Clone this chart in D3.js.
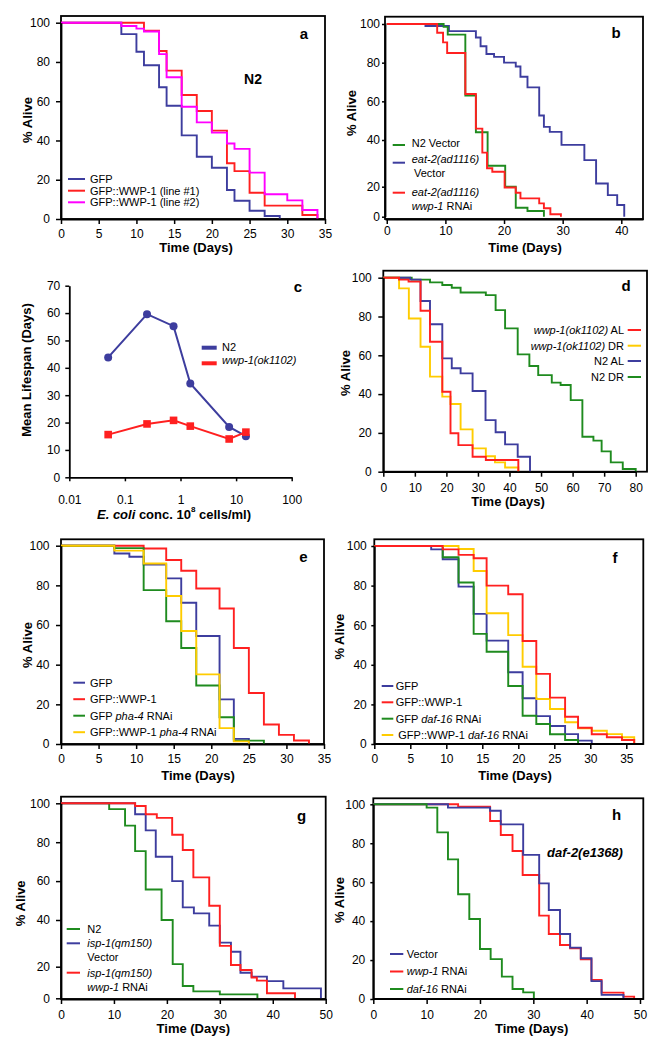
<!DOCTYPE html>
<html><head><meta charset="utf-8">
<script src="https://cdn.jsdelivr.net/npm/d3@7"></script>
<style>
body{margin:0;background:#fff}
text{font-family:"Liberation Sans",Arial,Helvetica,sans-serif;}
</style></head><body><div id="chart"></div>
<script>
// ---------------- DATA ----------------
// survival steps: [day, % alive]
const a_GFP   = [[0,100],[8,94.2],[10,85.2],[11,78.3],[13,67.1],[14,57.7],[16,42.6],[18,31.7],[20,26.1],[22,14.8],[23,9.3],[25,4.2],[27,1.5],[29,0]];
const a_WWP1  = [[0,100],[11,95.9],[13,85.6],[14,75.6],[16,63.2],[18,55],[20,45],[22,28.4],[23,24.4],[25,13.4],[27,6.8],[32,2],[34,0]];
const a_WWP2  = [[0,100],[8,98.3],[10,97],[11,95.5],[13,84],[14,72.2],[16,57.2],[18,49.2],[20,44],[22,38.5],[23,35.7],[25,23.6],[27,12.6],[30,9.5],[32,4.6],[34,0]];

const b_N2vec   = [[0,100],[9.7,98.5],[10.4,94.5],[13.4,63],[15.2,44],[17.2,29],[20.2,20],[22,6],[24,3.8],[26.8,0]];
const b_eat2vec = [[0,100],[6.6,99],[10.6,96.3],[15.2,93],[16,88.5],[17,84.5],[18.3,83],[20,80],[22,78],[22.8,72.7],[24,67.2],[26,52.7],[26.8,46.8],[27.8,44.2],[29.8,37.9],[33.7,31.4],[35.7,21.4],[37.7,14.4],[39.3,7.8],[40.5,0]];
const b_eat2wwp = [[0,100],[8.6,95.5],[9.6,90.5],[10.3,85],[13.4,63.8],[15.2,45.9],[16.3,34.6],[17.1,27.9],[18,26.4],[20.1,19.5],[22,16],[22.8,12.2],[26,8.9],[26.8,5.6],[27.9,1.6],[29.7,0]];

const c_conc  = [0.05, 0.25, 0.75, 1.5, 7.5, 15];
const c_N2    = [43.8, 59.6, 55.2, 34.3, 18.4, 15.0];
const c_wwp1  = [15.6, 19.5, 20.8, 18.7, 14.0, 16.5];

const d_wwpAL = [[0,100],[5,99],[8,98],[11.8,83],[14.8,67],[18.7,41.2],[21.3,19.8],[23.8,13.7],[28.3,7.7],[32.5,6],[42.8,0]];
const d_wwpDR = [[0,100],[5,94.5],[8.1,79],[11.8,64.4],[14.8,49],[18.7,38.7],[21.3,34.9],[24.5,21.8],[28.3,12],[32.5,8],[35.4,4.8],[38.6,2.2],[42.8,0]];
const d_N2AL  = [[0,100],[8.5,99],[11.8,88],[14.8,76],[18.7,58.4],[21.7,53.3],[24.5,50.7],[28.3,41.6],[32.4,26.6],[35.6,20.3],[38.6,14.1],[42.6,7.7],[46.5,0]];
const d_N2DR  = [[0,100],[9,99],[14.8,97.6],[18.7,96.2],[21.7,94.8],[24.5,92.4],[32.5,91],[35.6,83.3],[38.6,73.9],[42.6,60.5],[46.3,54.5],[49.1,49.8],[53.4,45.9],[56.2,44.7],[59.4,36.9],[63.1,18],[66.6,16],[69.2,10.5],[72.1,4.8],[75.9,1.4],[80,0]];

const e_GFP      = [[0,100],[7.1,96.1],[9.1,94.4],[11,90.5],[14,83.5],[16,71.2],[18,54.5],[21.1,22.5],[23,2.6],[25,0]];
const e_WWP      = [[0,100],[11,98.6],[14,92.8],[16,87.4],[18,78.4],[21.1,68.3],[23,48.4],[25,25.7],[27,9.8],[29,4.6],[31,1.8],[33,0]];
const e_pha4     = [[0,100],[7.1,98.8],[11,77.6],[14,61.9],[16,48.4],[18,29.5],[21.1,13.5],[23,1.7],[27,0]];
const e_WWPpha4  = [[0,100],[7.1,97.5],[11,91],[14,74.6],[16,57],[18,35.1],[21.1,8],[23,1.3],[25,0]];

const f_GFP      = [[0,100],[7.9,98.3],[9.5,93.3],[11.7,79.5],[13.8,65.7],[15.6,52.2],[18.6,36.2],[20.6,23.1],[22.5,14.1],[24.4,9.1],[26.5,5],[28.3,1.7],[30.2,0]];
const f_WWP      = [[0,100],[9.5,98.3],[11.7,95.5],[13.8,93.8],[15.6,80],[18.6,75.6],[20.6,52],[22.5,35.4],[24.4,23.4],[26.5,13.8],[28.3,8.2],[30.2,4.9],[32.3,3.4],[34.4,2],[36.1,0]];
const f_daf16    = [[0,100],[9.5,94.3],[11.7,81.6],[13.8,55.6],[15.6,46.6],[18.6,29.3],[20.6,14.3],[22.5,10.1],[24.4,4.9],[26.5,2],[28.3,0]];
const f_WWPdaf16 = [[0,100],[11.7,98.5],[13.8,87.4],[15.6,66],[18.6,55],[20.6,39],[22.5,22.7],[24.4,17.7],[26.5,11],[28.3,7.9],[30.2,6.7],[32.3,5],[34.4,3.4],[36.1,0]];

const g_N2     = [[0,100],[9.1,97],[12.1,88.5],[14,75.4],[16,55.7],[19,40],[21.1,21.1],[23,7.8],[25,4.4],[30,2.5],[37.1,0]];
const g_ispVec = [[0,100],[14,94.4],[16,86.1],[17.9,72.5],[21,60],[23,46.5],[25.1,43.4],[28,37.6],[30,30.3],[32.1,26.4],[33.9,16.2],[36,13.7],[38.9,10.9],[42,6.3],[49.1,0]];
const g_ispWwp = [[0,100],[14,98.6],[16,94.4],[18.1,92.5],[21,83.8],[23,76],[25,61.9],[28,47.3],[30,28.9],[32.1,20.7],[33.9,17.9],[36,13.2],[37,11.2],[38.9,3.2],[44.2,0]];

const h_vec   = [[0,100],[14,98.3],[21.9,96.7],[23.9,89.7],[28.1,74],[31.1,59.4],[32.9,45.7],[35,33.4],[36.9,26.4],[38.9,20.9],[40.9,9.2],[42.8,2.1],[46.9,0]];
const h_wwp   = [[0,100],[15.9,98.8],[21.9,91.4],[23.9,84.2],[26.1,76],[28,63.7],[31.1,42.8],[32.9,33.4],[35,27.7],[36.9,26],[38.9,20.4],[40.9,9.8],[42.8,3.3],[46.9,1.2],[48.9,0]];
const h_daf16 = [[0,100],[10,98.3],[12,85.6],[14,71.7],[15.9,53.8],[18,41.1],[20,25.7],[22,20.5],[24.1,11.5],[26.1,5.1],[28.1,3.4],[30.1,0]];

// tick values
const ticksPct   = [0,20,40,60,80,100];
const ticks35    = [0,5,10,15,20,25,30,35];
const ticks40    = [0,10,20,30,40];
const ticks50    = [0,10,20,30,40,50];
const ticks80    = [0,10,20,30,40,50,60,70,80];
const ticksLife  = [0,10,20,30,40,50,60,70];
const ticksConc  = [0.01,0.1,1,10,100];

// ---------------- STYLE ----------------
const BLUE="#3d3d9e", RED="#ff2020", GREEN="#1f8b1f", YELLOW="#ffcc00", MAGENTA="#ff00ff";
const svg = d3.select("#chart").append("svg").attr("width",667).attr("height",1050);
svg.append("rect").attr("width",667).attr("height",1050).attr("fill","#fff");

function txt(g, x, y, parts, o={}) {
  const t = g.append("text").attr("x",x).attr("y",y)
    .attr("font-size",o.size||11).attr("text-anchor",o.anchor||"start")
    .attr("font-weight",o.bold?"bold":"normal").attr("fill","#000");
  if (o.dy) t.attr("dy",o.dy);
  if (o.rot) t.attr("transform",`rotate(-90,${x},${y})`);
  parts.forEach(p => {
    const s = typeof p === "string" ? {t:p} : p;
    const ts = t.append("tspan").text(s.t);
    if (s.i) ts.attr("font-style","italic");
    if (s.dy) ts.attr("dy",s.dy);
    if (s.size) ts.attr("font-size",s.size);
  });
  return t;
}

function panel(p) {
  const g = svg.append("g");
  if (p.frame) g.append("rect").attr("x",p.frame[0]).attr("y",p.frame[1])
    .attr("width",p.frame[2]-p.frame[0]).attr("height",p.frame[3]-p.frame[1])
    .attr("fill","none").attr("stroke","#000").attr("stroke-width",1.8);
  const line = d3.line().x(d=>p.x(d[0])).y(d=>p.y(d[1])).curve(d3.curveStepAfter);
  (p.series||[]).forEach(s => g.append("path").attr("d",line(s.d)).attr("fill","none")
    .attr("stroke",s.c).attr("stroke-width",1.9));
  const xa = g.append("g").attr("transform",`translate(0,${p.xAxisY})`)
    .call(d3.axisBottom(p.x).tickValues(p.xticks).tickSize(p.xts||5).tickSizeOuter(0)
      .tickPadding(p.xpad).tickFormat(p.xfmt||d3.format("d")));
  const ya = g.append("g").attr("transform",`translate(${p.yAxisX},0)`)
    .call(d3.axisLeft(p.y).tickValues(p.yticks).tickSize(p.yts||5).tickSizeOuter(0)
      .tickPadding(p.ypad).tickFormat(d3.format("d")));
  [xa,ya].forEach(a => {
    a.attr("font-size",12).attr("font-family",null);
    a.selectAll("path").attr("stroke-width",1.8);
    a.selectAll("line").attr("stroke-width",1.5);
  });
  if (p.xRange) xa.select("path.domain").attr("d",`M${p.xRange[0]},0H${p.xRange[1]}`);
  if (p.yRange) ya.select("path.domain").attr("d",`M0,${p.yRange[0]}V${p.yRange[1]}`);
  return g;
}

function legendLine(g, x1, x2, y, c, w) {
  g.append("line").attr("x1",x1).attr("x2",x2).attr("y1",y).attr("y2",y)
    .attr("stroke",c).attr("stroke-width",w||2);
}

// ---------- Panel a ----------
{
  const x = d3.scaleLinear().domain([0,35]).range([61,325]);
  const y = d3.scaleLinear().domain([0,100]).range([219,22.7]);
  const g = panel({x,y,frame:[61,16,325,219],xticks:ticks35,yticks:ticksPct,xAxisY:219,yAxisX:61,xpad:5,ypad:6,
    series:[{d:a_GFP,c:BLUE},{d:a_WWP1,c:RED},{d:a_WWP2,c:MAGENTA}]});
  txt(g,27,120,["% Alive"],{size:13,bold:true,anchor:"middle",rot:true,dy:"0.35em"});
  txt(g,196,252,["Time (Days)"],{size:13,bold:true,anchor:"middle"});
  txt(g,304,34,["a"],{size:15,bold:true,anchor:"middle",dy:"0.35em"});
  txt(g,253,79,["N2"],{size:14,bold:true,anchor:"middle",dy:"0.35em"});
  [[BLUE,179,"GFP"],[RED,190.7,"GFP::WWP-1 (line #1)"],[MAGENTA,202.3,"GFP::WWP-1 (line #2)"]].forEach(r=>{
    legendLine(g,68,85,r[1],r[0]); txt(g,90,r[1],[r[2]],{dy:"0.35em"});
  });
}
// ---------- Panel b ----------
{
  const x = d3.scaleLinear().domain([-0.3,43.7]).range([385,643]);
  const y = d3.scaleLinear().domain([0,20,40,100]).range([216.7,186.7,140,24]);
  const g = panel({x,y,frame:[385,16.7,643,219],xticks:ticks40,yticks:ticksPct,xAxisY:219,yAxisX:385,xpad:2,ypad:2,yts:3,
    series:[{d:b_eat2vec,c:BLUE},{d:b_N2vec,c:GREEN},{d:b_eat2wwp,c:RED}]});
  txt(g,351.7,113,["% Alive"],{size:13,bold:true,anchor:"middle",rot:true,dy:"0.35em"});
  txt(g,525,252,["Time (Days)"],{size:13,bold:true,anchor:"middle"});
  txt(g,616,33,["b"],{size:15,bold:true,anchor:"middle",dy:"0.35em"});
  legendLine(g,392.7,405,145,GREEN);
  legendLine(g,392.7,405,162.7,BLUE);
  legendLine(g,392.7,405,192.7,RED);
  txt(g,411.7,143.3,["N2 Vector"],{dy:"0.35em"});
  txt(g,411.7,159.3,[{t:"eat-2(ad1116)",i:true}],{dy:"0.35em"});
  txt(g,414,173.3,["Vector"],{dy:"0.35em"});
  txt(g,411.7,191.7,[{t:"eat-2(ad1116)",i:true}],{dy:"0.35em"});
  txt(g,411.7,205.7,[{t:"wwp-1",i:true}," RNAi"],{dy:"0.35em"});
}
// ---------- Panel c ----------
{
  const x = d3.scaleLog().domain([0.01,100]).range([69.3,291.7]);
  const y = d3.scaleLinear().domain([0,70]).range([477.3,285.7]);
  const g = panel({x,y,xticks:ticksConc,yticks:ticksLife,xAxisY:477.3,yAxisX:69.3,xpad:14,ypad:5,yts:4,xts:4,
    xfmt:d=>String(d), series:[]});
  const ln = d3.line().x((d,i)=>x(c_conc[i])).y(d=>y(d));
  g.append("path").attr("d",ln(c_N2)).attr("fill","none").attr("stroke",BLUE).attr("stroke-width",2);
  g.append("path").attr("d",ln(c_wwp1)).attr("fill","none").attr("stroke",RED).attr("stroke-width",2);
  g.selectAll("circle.n2").data(c_N2).enter().append("circle").attr("cx",(d,i)=>x(c_conc[i])).attr("cy",d=>y(d)).attr("r",4).attr("fill",BLUE);
  g.selectAll("rect.w").data(c_wwp1).enter().append("rect").attr("x",(d,i)=>x(c_conc[i])-3.8).attr("y",d=>y(d)-3.8).attr("width",7.6).attr("height",7.6).attr("fill",RED);
  txt(g,26.5,370,["Mean Lifespan (Days)"],{size:13,bold:true,anchor:"middle",rot:true,dy:"0.35em"});
  txt(g,174,519,[{t:"E. coli",i:true}," conc. 10",{t:"8",dy:-7,size:8},{t:" cells/ml)",dy:7}],{size:13,bold:true,anchor:"middle"});
  txt(g,298,287,["c"],{size:15,bold:true,anchor:"middle",dy:"0.35em"});
  legendLine(g,201.7,216.7,347.7,BLUE,4);
  legendLine(g,201.7,216.7,363.3,RED,4);
  txt(g,222,346.7,["N2"],{dy:"0.35em"});
  txt(g,222,360,[{t:"wwp-1(ok1102)",i:true}],{dy:"0.35em"});
}
// ---------- Panel d ----------
{
  const x = d3.scaleLinear().domain([0,80]).range([383.3,635.7]);
  const y = d3.scaleLinear().domain([0,100]).range([471.7,277.7]);
  const g = panel({x,y,frame:[383.3,270.7,647,471.7],xticks:ticks80,yticks:ticksPct,xAxisY:471.7,yAxisX:383.3,xpad:7,ypad:6.5,
    series:[{d:d_N2DR,c:GREEN},{d:d_N2AL,c:BLUE},{d:d_wwpDR,c:YELLOW},{d:d_wwpAL,c:RED}]});
  txt(g,345,373,["% Alive"],{size:13,bold:true,anchor:"middle",rot:true,dy:"0.35em"});
  txt(g,508,506,["Time (Days)"],{size:13,bold:true,anchor:"middle"});
  txt(g,626,286,["d"],{size:15,bold:true,anchor:"middle",dy:"0.35em"});
  [[RED,330,[{t:"wwp-1(ok1102)",i:true}," AL"]],[YELLOW,345.7,[{t:"wwp-1(ok1102)",i:true}," DR"]],
   [BLUE,361,["N2 AL"]],[GREEN,377,["N2 DR"]]].forEach(r=>{
    legendLine(g,627.7,641,r[1],r[0]); txt(g,624,r[1],r[2],{anchor:"end",dy:"0.35em"});
  });
}
// ---------- Panel e ----------
{
  const x = d3.scaleLinear().domain([0,35]).range([61,324]);
  const y = d3.scaleLinear().domain([0,100]).range([744,545.7]);
  const g = panel({x,y,frame:[61,539.3,324,744],xticks:ticks35,yticks:ticksPct,xAxisY:744,yAxisX:61,xpad:5,ypad:6.5,
    series:[{d:e_GFP,c:BLUE},{d:e_WWP,c:RED},{d:e_pha4,c:GREEN},{d:e_WWPpha4,c:YELLOW}]});
  txt(g,27,645,["% Alive"],{size:13,bold:true,anchor:"middle",rot:true,dy:"0.35em"});
  txt(g,198,780,["Time (Days)"],{size:13,bold:true,anchor:"middle"});
  txt(g,303.3,557,["e"],{size:15,bold:true,anchor:"middle",dy:"0.35em"});
  [[BLUE,682.7,["GFP"]],[RED,699.2,["GFP::WWP-1"]],[GREEN,715.7,["GFP ",{t:"pha-4",i:true}," RNAi"]],
   [YELLOW,732.2,["GFP::WWP-1 ",{t:"pha-4",i:true}," RNAi"]]].forEach(r=>{
    legendLine(g,73.3,85,r[1],r[0]); txt(g,90,r[1],r[2],{dy:"0.35em"});
  });
}
// ---------- Panel f ----------
{
  const x = d3.scaleLinear().domain([0,35]).range([374.3,626.3]);
  const y = d3.scaleLinear().domain([0,100]).range([744,546]);
  const g = panel({x,y,frame:[374.3,539.3,643.3,744],xticks:ticks35,yticks:ticksPct,xAxisY:744,yAxisX:374.3,xpad:5,ypad:4.5,yts:3,
    xRange:[374.3,643.3],
    series:[{d:f_GFP,c:BLUE},{d:f_daf16,c:GREEN},{d:f_WWPdaf16,c:YELLOW},{d:f_WWP,c:RED}]});
  txt(g,339.3,636.7,["% Alive"],{size:13,bold:true,anchor:"middle",rot:true,dy:"0.35em"});
  txt(g,515,780,["Time (Days)"],{size:13,bold:true,anchor:"middle"});
  txt(g,615,557.3,["f"],{size:15,bold:true,anchor:"middle",dy:"0.35em"});
  [[BLUE,686,["GFP"],395.7],[RED,702.3,["GFP::WWP-1"],395.7],[GREEN,718.7,["GFP ",{t:"daf-16",i:true}," RNAi"],395.7],
   [YELLOW,735,["GFP::WWP-1 ",{t:"daf-16",i:true}," RNAi"],398.3]].forEach(r=>{
    legendLine(g,381.7,393.3,r[1],r[0]); txt(g,r[3],r[1],r[2],{dy:"0.35em"});
  });
}
// ---------- Panel g ----------
{
  const x = d3.scaleLinear().domain([0,50]).range([61,325.7]);
  const y = d3.scaleLinear().domain([0,20,40,100]).range([998.3,966.7,920,803.3]);
  const g = panel({x,y,frame:[61,796.7,325.7,999],xticks:ticks50,yticks:ticksPct,xAxisY:999,yAxisX:61,xpad:6,ypad:6,
    series:[{d:g_N2,c:GREEN},{d:g_ispVec,c:BLUE},{d:g_ispWwp,c:RED}]});
  txt(g,20.7,903.3,["% Alive"],{size:13,bold:true,anchor:"middle",rot:true,dy:"0.35em"});
  txt(g,193.3,1033,["Time (Days)"],{size:13,bold:true,anchor:"middle"});
  txt(g,301.7,816,["g"],{size:15,bold:true,anchor:"middle",dy:"0.35em"});
  legendLine(g,66.7,80,929,GREEN);
  legendLine(g,66.7,80,943.3,BLUE);
  legendLine(g,66.7,80,972.7,RED);
  txt(g,87.3,929,["N2"],{dy:"0.35em"});
  txt(g,87.3,943.3,[{t:"isp-1(qm150)",i:true}],{dy:"0.35em"});
  txt(g,87.3,957.3,["Vector"],{dy:"0.35em"});
  txt(g,87.3,972.7,[{t:"isp-1(qm150)",i:true}],{dy:"0.35em"});
  txt(g,87.3,986.7,[{t:"wwp-1",i:true}," RNAi"],{dy:"0.35em"});
}
// ---------- Panel h ----------
{
  const x = d3.scaleLinear().domain([0,50]).range([373.3,640]);
  const y = d3.scaleLinear().domain([0,100]).range([999,804.3]);
  const g = panel({x,y,frame:[373.3,798.3,643.3,999],xticks:ticks50,yticks:ticksPct,xAxisY:999,yAxisX:373.3,xpad:6.5,ypad:5,yts:3,
    xRange:[373.3,643.3],
    series:[{d:h_wwp,c:RED},{d:h_vec,c:BLUE},{d:h_daf16,c:GREEN}]});
  txt(g,339.3,900,["% Alive"],{size:13,bold:true,anchor:"middle",rot:true,dy:"0.35em"});
  txt(g,531.7,1033,["Time (Days)"],{size:13,bold:true,anchor:"middle"});
  txt(g,616.7,815,["h"],{size:15,bold:true,anchor:"middle",dy:"0.35em"});
  txt(g,585,852.7,[{t:"daf-2(e1368)",i:true}],{size:13,bold:true,anchor:"middle",dy:"0.35em"});
  [[BLUE,954,["Vector"]],[RED,971.5,[{t:"wwp-1",i:true}," RNAi"]],[GREEN,989,[{t:"daf-16",i:true}," RNAi"]]].forEach(r=>{
    legendLine(g,390,403.3,r[1],r[0]); txt(g,406.7,r[1],r[2],{dy:"0.35em"});
  });
}
</script></body></html>
